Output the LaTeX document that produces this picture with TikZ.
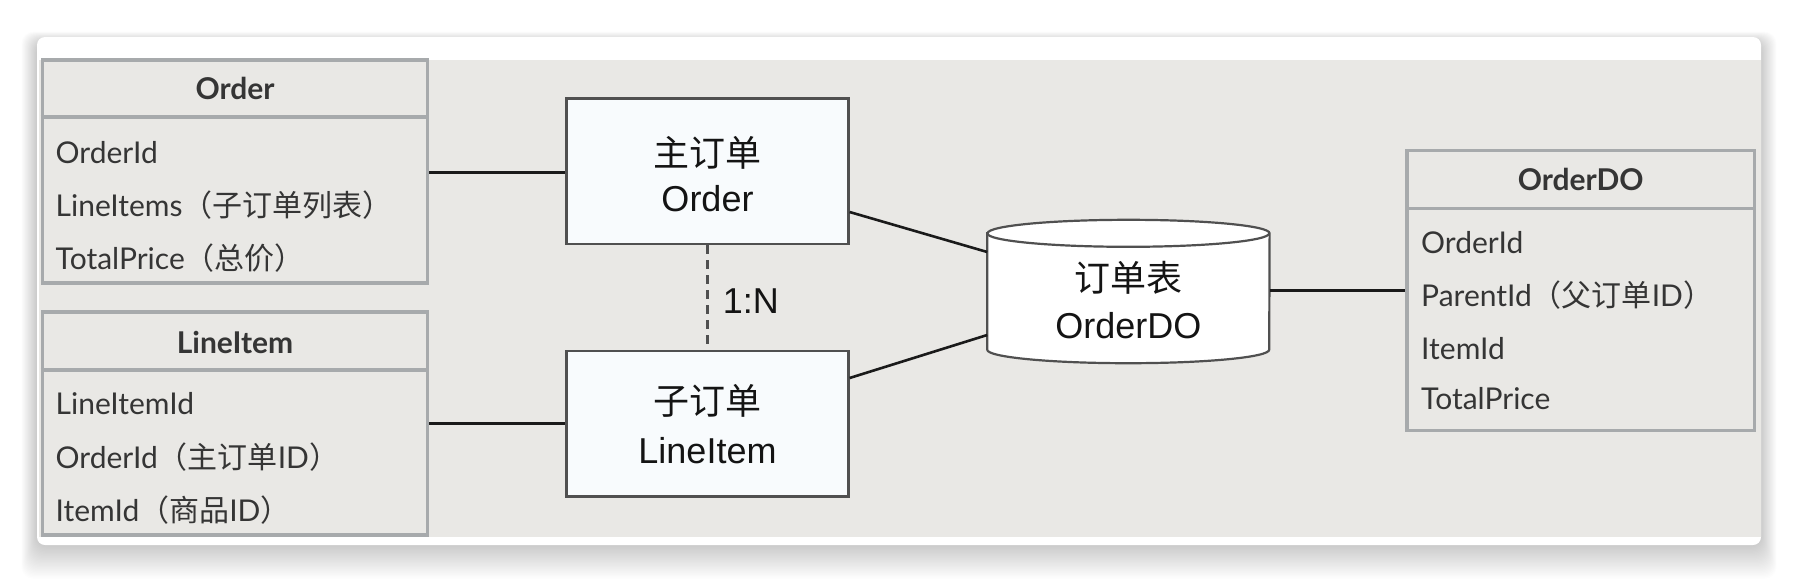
\documentclass[tikz,border=0pt]{standalone}
\usepackage{fontspec}
\setmainfont{Lato}
\newfontfamily\cjk{Noto Sans CJK SC}
\newfontfamily\arialf{Liberation Sans}
\definecolor{canvas}{HTML}{E9E8E5}
\definecolor{tblborder}{HTML}{A7AAAC}
\definecolor{tbltext}{HTML}{353535}
\definecolor{boxfill}{HTML}{F8FBFD}
\definecolor{boxborder}{HTML}{505050}
\definecolor{conn}{HTML}{1A1A1A}
\tikzset{
  tbl/.style={draw=tblborder, line width=3.4pt, fill=canvas, inner sep=0pt},
  tblsep/.style={draw=tblborder, line width=3.4pt},
  tbltxt/.style={anchor=base west, inner sep=0pt, text=tbltext, font=\fontsize{30}{36}\selectfont},
  tblhead/.style={anchor=base, inner sep=0pt, text=tbltext, font=\bfseries\fontsize{30}{36}\selectfont},
  cbox/.style={draw=boxborder, line width=2.2pt, fill=boxfill, inner sep=0pt, minimum width=282pt, minimum height=145.5pt},
  ctxt/.style={anchor=base, inner sep=0pt, text=black!92, font=\arialf\fontsize{36}{42}\selectfont},
  cjktxt/.style={anchor=base, inner sep=0pt, text=black!92, font=\cjk\fontsize{36}{42}\selectfont},
  connector/.style={draw=conn, line width=2.6pt},
}
\begin{document}
\begin{tikzpicture}[x=1pt,y=-1pt]
\useasboundingbox (0,0) rectangle (1798,582);
\fill[white] (0,0) rectangle (1798,582);
% shadow of the card
\foreach \i in {1,...,26}{
  \fill[black, opacity=0.006, rounded corners=12pt] (37-\i*0.6, 37-\i*0.4+5) rectangle (1761+\i*0.6, 545+\i*1.3);
}
% card
\fill[white, rounded corners=8pt] (37,37) rectangle (1761,545);
\fill[canvas] (38.5,59.5) rectangle (1761,537);

% Order table
\node[tbl, minimum width=385.3pt, minimum height=223pt] (ordtbl) at (235.05,171.5) {};
\draw[tblsep] (ordtbl.west |- 0,117) -- (ordtbl.east |- 0,117);
\node[tblhead] (ordh) at (235.05,99) {Order};
\node[tbltxt] (ord1) at (55.5,163) {OrderId};
\node[tbltxt] (ord2) at (55.5,216) {LineItems{\cjk（子订单列表）}};
\node[tbltxt] (ord3) at (55.5,269) {TotalPrice{\cjk（总价）}};

% LineItem table
\node[tbl, minimum width=385.3pt, minimum height=223pt] (litbl) at (235.05,423.5) {};
\draw[tblsep] (litbl.west |- 0,370) -- (litbl.east |- 0,370);
\node[tblhead] (lih) at (235.05,353) {LineItem};
\node[tbltxt] (li1) at (55.5,414) {LineItemId};
\node[tbltxt] (li2) at (55.5,468) {OrderId{\cjk（主订单}ID{\cjk）}};
\node[tbltxt] (li3) at (55.5,521) {ItemId{\cjk（商品}ID{\cjk）}};

% OrderDO table
\node[tbl, minimum width=347.5pt, minimum height=280pt] (dotbl) at (1580.75,290.5) {};
\draw[tblsep] (dotbl.west |- 0,208.5) -- (dotbl.east |- 0,208.5);
\node[tblhead] (doh) at (1580.75,190) {OrderDO};
\node[tbltxt] (do1) at (1421,253.5) {OrderId};
\node[tbltxt] (do2) at (1421,306) {ParentId{\cjk（父订单}ID{\cjk）}};
\node[tbltxt] (do3) at (1421,359) {ItemId};
\node[tbltxt] (do4) at (1421,409) {TotalPrice};

% center boxes
\node[cbox] (mainord) at (707.5,171.3) {};
\node[cjktxt] (mainord1) at (707.5,166) {主订单};
\node[ctxt] (mainord2) at (707.5,211) {Order};
\node[cbox] (libox) at (707.5,423.7) {};
\node[cjktxt] (libox1) at (707.5,414) {子订单};
\node[ctxt] (libox2) at (707.5,463) {LineItem};

% cylinder
\node[inner sep=0pt, minimum width=282pt, minimum height=116pt] (cyl) at (1128.4,291.5) {};
\filldraw[draw=boxborder, line width=2.2pt, fill=white]
  (cyl.north west) -- (cyl.south west)
  arc[start angle=180, end angle=360, x radius=141pt, y radius=13.5pt]
  -- (cyl.north east)
  arc[start angle=0, end angle=180, x radius=141pt, y radius=13.5pt] -- cycle;
\draw[draw=boxborder, line width=2.2pt] (cyl.north west)
  arc[start angle=180, end angle=360, x radius=141pt, y radius=13.5pt];
\node[cjktxt] (cyl1) at (1128.4,291) {订单表};
\node[ctxt] (cyl2) at (1128.4,338) {OrderDO};

% connectors
\draw[connector] ([yshift=-1.2pt]ordtbl.east) -- ([yshift=-1.2pt]ordtbl.east -| mainord.west);
\draw[connector] (litbl.east) -- (litbl.east -| libox.west);
\draw[connector] ([yshift=-40.7pt]mainord.east) -- ([yshift=39.5pt]cyl.west);
\draw[connector] ([yshift=45.7pt]libox.east) -- ([yshift=-43.5pt]cyl.west);
\draw[connector] ([yshift=1pt]cyl.east) -- ([yshift=1pt]cyl.east -| dotbl.west);
\draw[draw=boxborder, line width=2.2pt, dash pattern=on 9pt off 6pt] (mainord.south) -- (libox.north);
\node[ctxt] (ratio) at (750.8,313) {1:N};
\end{tikzpicture}
\end{document}
